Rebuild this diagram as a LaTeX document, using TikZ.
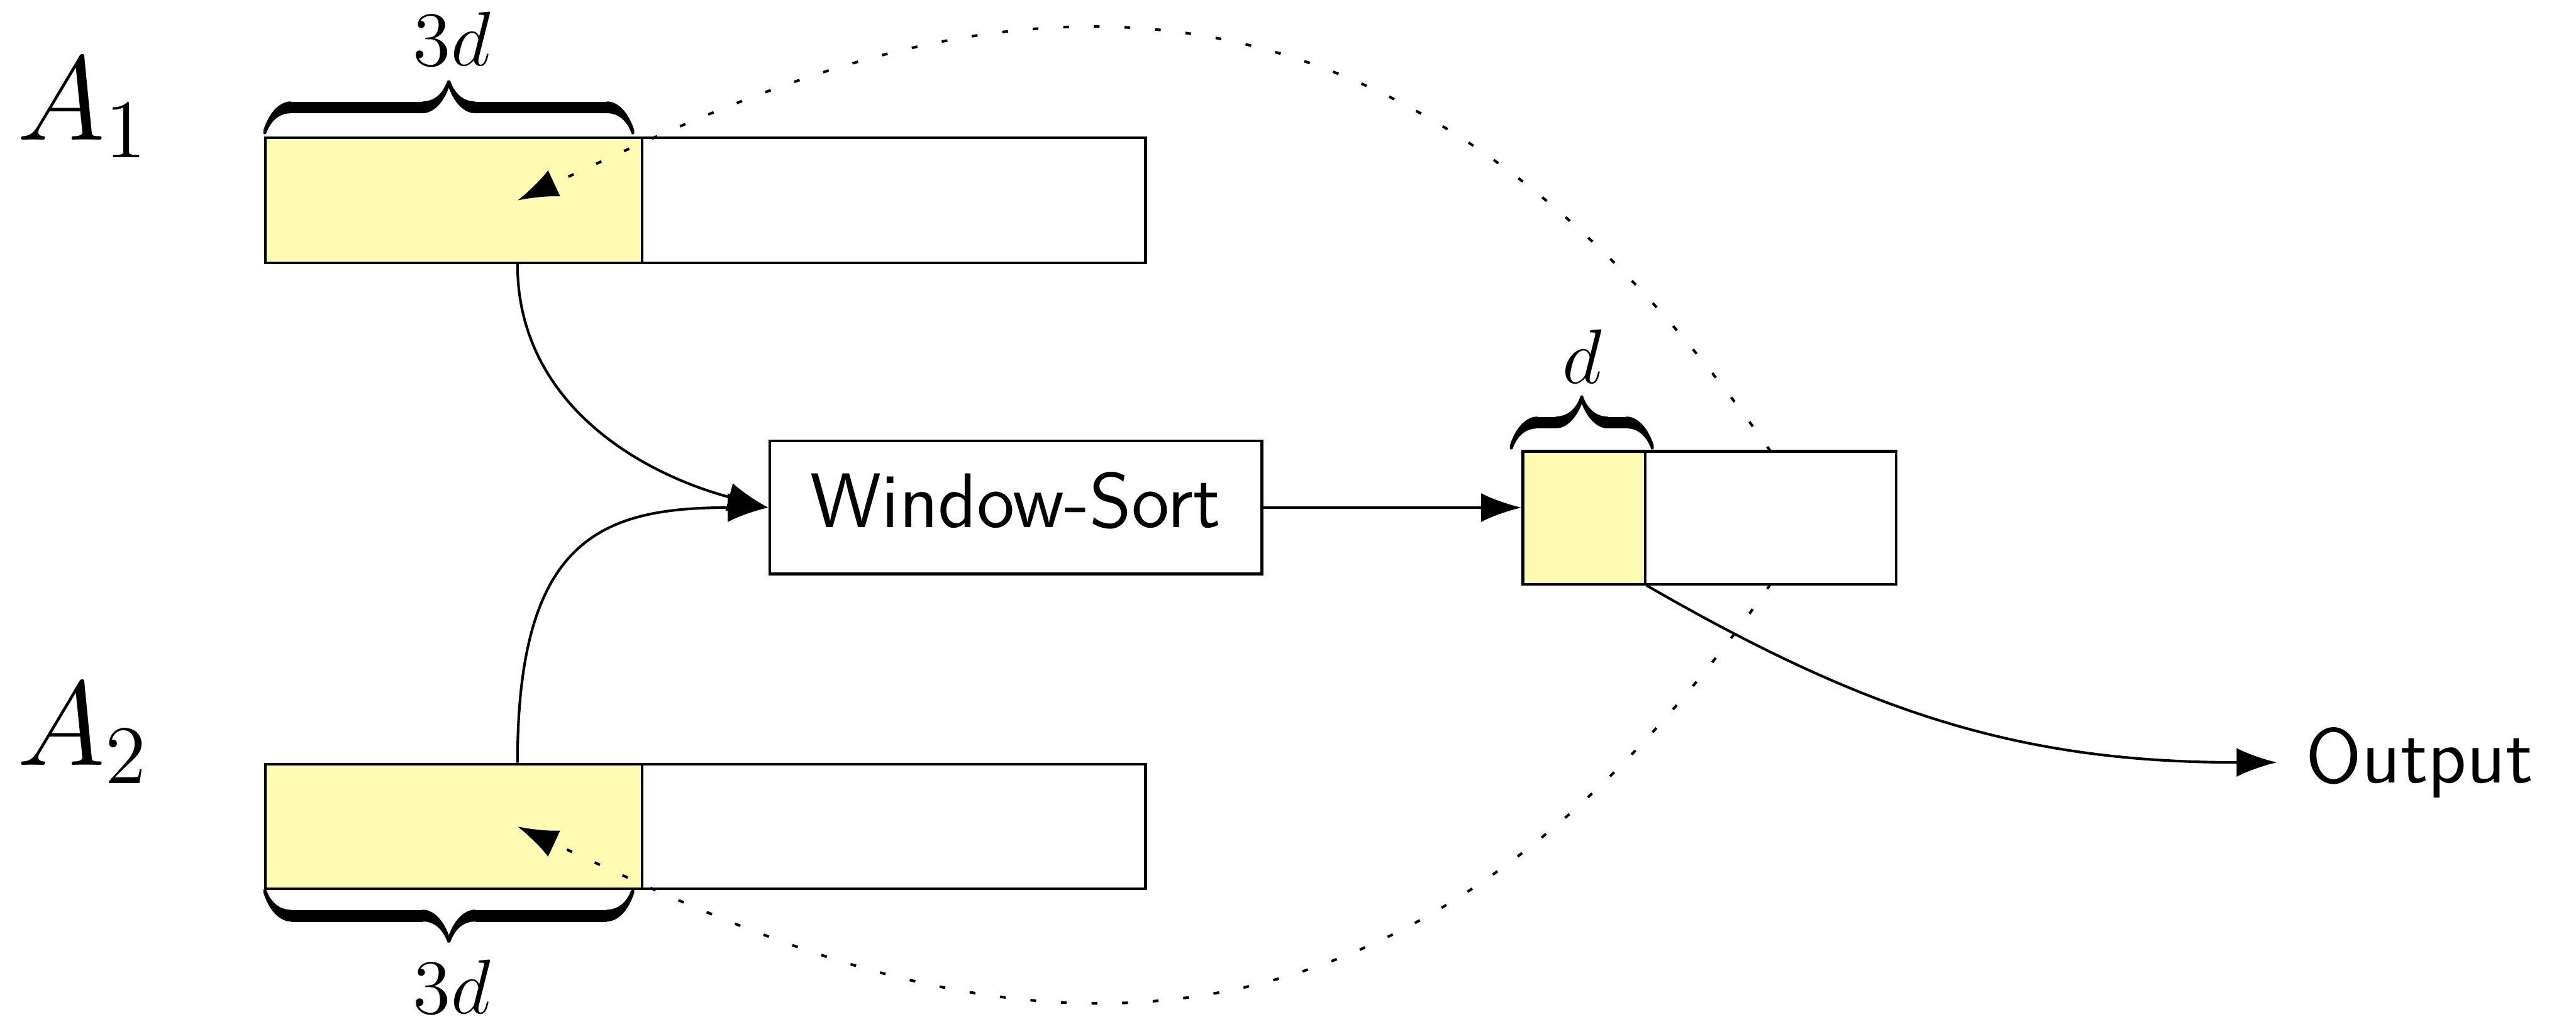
\RequirePackage{fix-cm}
\documentclass[tikz,border=0pt]{standalone}
\usepackage{graphicx}
\usetikzlibrary{arrows.meta}
\tikzset{
  cell/.style={draw, line width=0.45pt, inner sep=0pt, minimum height=0.76cm},
  ycell/.style={cell, fill=yellow!30},
  wcell/.style={cell, fill=white},
  conn/.style={line width=0.45pt, -{Latex[length=7pt,width=5pt]}},
  back/.style={line width=0.45pt, dash pattern=on 1pt off 4.3pt, -{Latex[length=7pt,width=5pt]}},
  lbl/.style={font=\fontsize{13.4}{16}\selectfont, inner sep=0pt},
  big/.style={font=\fontsize{20.74}{25}\selectfont, inner sep=0pt, anchor=base west},
  brc/.style={font=\fontsize{13.4}{16}\selectfont, inner sep=0pt, anchor=base},
  txt/.style={font=\sffamily\fontsize{13.4}{16}\selectfont},
}
\newcommand{\obr}[1]{\scalebox{1}[1.7]{\hbox to #1{\downbracefill}}}
\newcommand{\ubr}[1]{\scalebox{1}[1.7]{\hbox to #1{\upbracefill}}}
\begin{document}
\begin{tikzpicture}[x=0.01cm, y=-0.01cm]
\useasboundingbox (0,0) rectangle (1568,623);

% input arrays
\node[ycell, minimum width=2.295cm] (a1y) at (276.25,122) {};
\node[wcell, minimum width=3.062cm] (a1w) at (544.1,122) {};
\node[ycell, minimum width=2.295cm] (a2y) at (276.25,503) {};
\node[wcell, minimum width=3.062cm] (a2w) at (544.1,503) {};
\coordinate (t1) at (315,122);
\coordinate (t2) at (315,503);

% labels
\node[big] (n1) at (10,85) {$A_1$};
\node[big] (n2) at (10,465.7) {$A_2$};

% output array position (drawn later, on top of the dotted curves)
\coordinate (otop) at (1077.75,274.7);
\coordinate (obot) at (1077.75,355.5);

% feedback (dotted) curves
\draw[back] (otop) to[out=125,in=25,out looseness=1.543,in looseness=0.755] (t1);
\draw[back] (obot) to[out=-125,in=-25,out looseness=1.543,in looseness=0.755] (t2);

% output array
\node[ycell, minimum width=0.745cm, minimum height=0.808cm] (oy) at (964.25,315.1) {};
\node[wcell, minimum width=1.525cm, minimum height=0.808cm] (ow) at (1077.75,315.1) {};

% window sort
\node[draw, fill=white, line width=0.45pt, inner sep=0pt, minimum width=2.995cm,
      minimum height=0.808cm, text depth=2.7pt, txt] (ws) at (618.25,308.9) {Window-Sort};

\node[txt, anchor=west, inner sep=4.8pt] (out) at (1386,464) {Output};

% braces
\node[brc] (b1) at (273.4,69.0) {\obr{2.238cm}};
\node[brc] (b2) at (273.4,561.0) {\ubr{2.238cm}};
\node[brc] (b3) at (963,260.8) {\obr{0.86cm}};
\node[lbl, anchor=base] (l1) at (275,40) {$3d$};
\node[lbl, anchor=base] (l2) at (275,617) {$3d$};
\node[lbl, anchor=base] (l3) at (963,233.5) {$d$};

% connectors
\draw[conn] (t1 |- a1y.south) to[out=-90,in=165] (ws.west);
\draw[conn] (t2 |- a2y.north) to[out=90,in=180,out looseness=1.6,in looseness=1.2] (ws.west);
\draw[conn] (ws.east) -- (ws.east -| oy.west);
\draw[conn] (oy.south east) to[out=-30,in=180] (out.west);
\end{tikzpicture}
\end{document}
